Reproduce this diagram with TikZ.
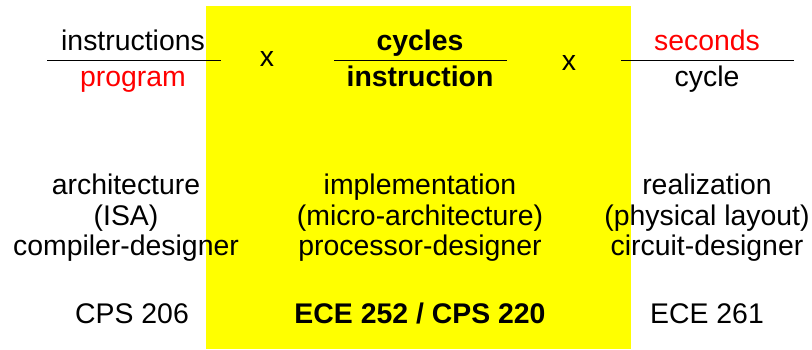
\documentclass[tikz,border=0pt]{standalone}
\usepackage{fontspec}
\setmainfont{Liberation Sans}
\definecolor{hl}{RGB}{255,255,0}
\definecolor{rd}{RGB}{255,0,0}
\begin{document}
\begin{tikzpicture}[x=1pt,y=-1pt,
  txt/.style={anchor=base,inner sep=0pt,font=\fontsize{28.4}{30}\selectfont},
  btxt/.style={txt,font=\fontsize{28.4}{30}\selectfont\bfseries},
  frac/.style={line width=1pt,black}]
\useasboundingbox (0,0) rectangle (812,349);
% highlighted middle column
\fill[hl] (206,6) rectangle (631,349);

% performance equation
\node[txt] (instr) at (133,50) {instructions};
\node[txt,text=rd] (prog) at (133,86) {program};
\coordinate (l1) at (47,60);
\coordinate (l2) at (221,60);
\draw[frac] (l1) -- (l2);
\node[txt] (times1) at (267,66) {x};

\node[btxt] (cyc) at (420,50) {cycles};
\node[btxt] (ins) at (420,86) {instruction};
\coordinate (m1) at (334,60);
\coordinate (m2) at (507,60);
\draw[frac] (m1) -- (m2);
\node[txt] (times2) at (569,70) {x};

\node[txt,text=rd] (sec) at (707,50) {seconds};
\node[txt] (cycle) at (707,86) {cycle};
\coordinate (r1) at (621,60);
\coordinate (r2) at (794,60);
\draw[frac] (r1) -- (r2);

% roles
\node[txt] (a1) at (126,194) {architecture};
\node[txt] (a2) at (126,225) {(ISA)};
\node[txt] (a3) at (126,255) {compiler-designer};

\node[txt] (b1) at (420,194) {implementation};
\node[txt] (b2) at (420,225) {(micro-architecture)};
\node[txt] (b3) at (420,255) {processor-designer};

\node[txt] (c1) at (707,194) {realization};
\node[txt] (c2) at (707,225) {(physical layout)};
\node[txt] (c3) at (707,255) {circuit-designer};

% courses
\node[txt] (k1) at (132,323) {CPS 206};
\node[btxt] (k2) at (420,323) {ECE 252 / CPS 220};
\node[txt] (k3) at (707,323) {ECE 261};
\end{tikzpicture}
\end{document}
